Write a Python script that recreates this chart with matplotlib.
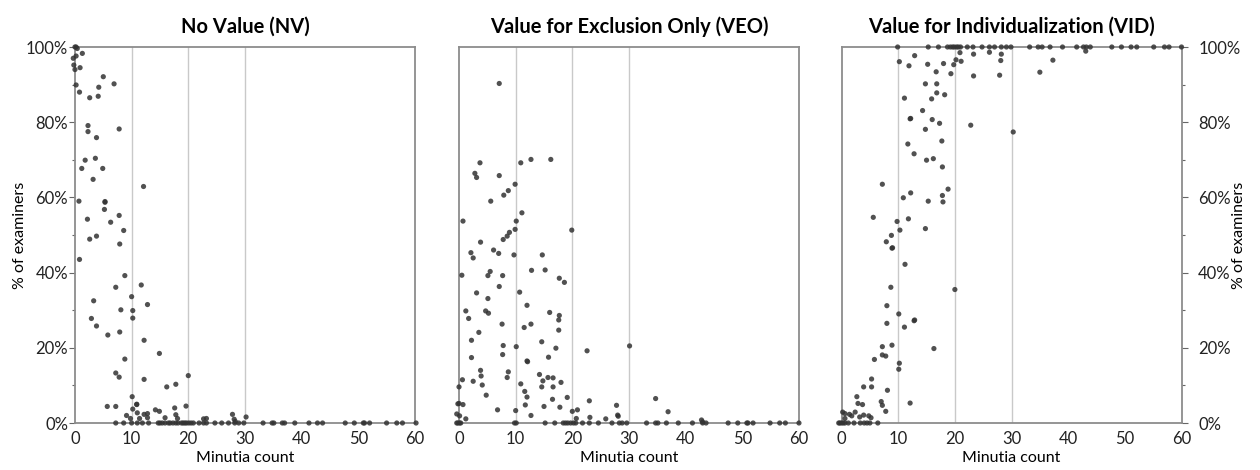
"""
Minutia count vs. % of examiners, one panel per value determination (NV / VEO / VID).
"""
import matplotlib
matplotlib.use("Agg")
import matplotlib.pyplot as plt
import matplotlib.ticker as ticker

plt.rcParams.update({
    "font.family": ["Lato", "DejaVu Sans"],
    "font.size": 11,
    "figure.facecolor": "white",
    "axes.facecolor": "white",
})

# ── Data ────────────────────────────────────────────────────────────────────
titles = ["No Value (NV)", "Value for Exclusion Only (VEO)", "Value for Individualization (VID)"]

nv_x = [0.0, 0.2, 0.4, 0.2, 1.3, -0.3, -0.2, 0.9, 0.0, 5.0, 6.9, 0.2, 4.2, 0.8, 2.6, 4.1,
        2.3, 2.3, 7.8, 3.8, 1.8, 3.6, 1.2, 4.9, 3.2, 12.1, 0.7, 5.3, 5.3, 5.2, 7.8, 2.2,
        6.3, 8.6, 2.6, 3.8, 7.9, 0.8, 8.8, 7.2, 11.7, 10.0, 3.3, 12.8, 8.1, 10.2, 2.9, 10.2,
        3.8, 7.9, 5.8, 12.2, 14.9, 8.8, 7.2, 7.8, 12.2, 20.0, 17.8, 16.2, 10.1, 5.7, 7.2, 10.9,
        19.6, 10.2, 14.2, 14.9, 17.6, 9.1, 11.0, 12.2, 12.8, 9.8, 11.4, 12.8, 15.9, 17.8, 18.1,
        22.7, 23.2, 27.8, 28.1, 30.2, 28.3, 10.9]
nv_y = [100, 100, 99.6, 97.6, 98.3, 97.0, 95.2, 94.5, 94.0, 92.1, 90.2, 89.9, 89.3, 88.0, 86.5, 86.9,
        79.1, 77.5, 78.2, 75.9, 69.9, 70.4, 67.7, 67.7, 64.8, 62.9, 59.0, 58.7, 58.9, 56.8, 55.2, 54.2,
        53.4, 51.2, 48.9, 49.7, 47.6, 43.5, 39.2, 36.1, 36.7, 33.6, 32.5, 31.5, 30.1, 29.9, 27.8, 27.9,
        25.8, 24.2, 23.4, 22.0, 18.5, 17.0, 13.3, 12.2, 11.6, 12.6, 10.3, 9.6, 7.0, 4.4, 4.4, 4.9,
        4.5, 3.7, 3.5, 3.1, 4.0, 2.0, 2.7, 2.3, 2.5, 1.2, 1.2, 1.4, 1.4, 2.2, 1.2,
        1.1, 1.2, 2.3, 1.0, 1.6, 0.4, 5.0]
nv_zero_x = [7.2, 8.6, 10.0, 11.0, 11.9, 13.0, 14.7, 15.0, 15.4, 15.9, 16.5, 16.8, 17.3, 17.8,
             18.2, 18.8, 19.1, 19.4, 19.7, 20.1, 20.5, 20.9, 21.9, 22.7, 23.2, 24.7, 25.9, 27.1,
             28.2, 28.9, 29.8, 33.2, 34.8, 35.1, 36.6, 37.0, 38.8, 41.3, 42.8, 43.7, 47.7, 49.3,
             50.9, 51.1, 52.0, 55.0, 56.8, 57.8, 60.2]

veo_x = [7.1, 3.7, 10.9, 12.7, 16.2, 2.8, 3.1, 7.1, 9.9, 8.7, 7.9, 5.6, 11.1, 0.7, 10.1, 9.9,
         19.9, 8.9, 8.5, 7.8, 3.8, 2.1, 2.5, 6.1, 7.0, 9.7, 14.7, 0.5, 5.1, 5.5, 7.7, 12.8,
         15.2, 17.7, 18.6, 7.1, 3.1, 10.7, 5.1, 12.0, 1.2, 4.7, 5.2, 16.0, 17.7, 17.6, 1.7, 7.6,
         12.7, 11.5, 17.6, 3.5, 2.2, 14.6, 7.8, 10.1, 17.1, 30.1, 22.6, 2.2, 7.7, 15.8, 12.0, 12.1,
         3.8, 8.7, 14.2, 3.9, 8.5, 15.7, 16.6, 0.6, 2.5, 14.8, 18.0, 10.9, 4.1, 14.6, 16.6, 0.0,
         11.6, 4.8, 12.0, 19.1, 16.5, 23.0, 34.7, -0.2, 0.0, 0.7, 11.7, 15.0, 17.8, 27.8, 6.8, 10.0,
         20.0, 20.9, 36.9, -0.4, 12.7, 28.0, 28.1, 0.1, 1.2, 20.7, 23.1, 25.9, 42.8, 43.0]
veo_y = [90.3, 69.2, 69.2, 70.1, 70.1, 66.4, 65.3, 65.8, 63.5, 61.8, 60.6, 59.0, 55.9, 53.7, 53.7, 51.5,
         51.3, 50.7, 49.7, 48.8, 48.1, 45.3, 43.9, 46.0, 45.1, 44.7, 44.7, 39.3, 39.2, 40.3, 39.2, 40.6,
         40.7, 38.5, 37.4, 36.3, 34.6, 34.8, 33.1, 31.3, 29.8, 29.8, 29.2, 29.4, 28.6, 27.4, 27.8, 26.3,
         26.3, 25.4, 24.7, 24.1, 22.0, 21.6, 20.6, 20.3, 19.9, 20.5, 19.2, 17.4, 18.2, 17.5, 16.5, 16.3,
         14.0, 13.6, 12.9, 12.5, 12.1, 12.1, 12.0, 11.5, 11.1, 11.2, 10.8, 10.4, 10.1, 9.6, 9.6, 9.6,
         8.4, 7.4, 6.9, 6.8, 6.3, 5.9, 6.5, 5.1, 5.2, 4.9, 4.8, 4.4, 4.2, 4.7, 3.5, 3.3,
         3.1, 3.5, 3.0, 2.4, 2.0, 2.1, 1.8, 1.9, 1.1, 1.2, 1.5, 1.1, 0.8, 0.3]
veo_zero_x = [-0.4, -0.2, 0.1, 0.3, 9.8, 10.1, 15.2, 16.9, 18.4, 18.8, 19.2, 19.7, 20.2, 20.6,
              21.8, 23.0, 24.6, 27.0, 28.3, 28.8, 29.6, 33.1, 34.7, 35.1, 36.6, 38.7, 41.2, 43.0,
              43.6, 47.5, 49.2, 50.8, 51.0, 51.9, 54.9, 56.6, 57.6, 60.0]

vid_x = [43.1, 12.9, 20.9, 23.3, 26.1, 28.2, 20.2, 21.1, 28.1, 37.3, 10.2, 11.9, 15.2, 18.0, 19.8,
         16.7, 19.3, 23.3, 27.9, 35.0, 14.8, 16.8, 16.8, 18.2, 11.1, 15.9, 14.3, 12.1, 12.2, 16.0,
         17.3, 22.8, 14.8, 30.3, 11.7, 17.7, 12.8, 15.0, 16.2, 17.8, 7.2, 18.8, 12.2, 10.9, 17.8,
         15.3, 17.9, 5.6, 11.8, 9.8, 10.3, 14.8, 8.8, 7.9, 8.9, 9.0, 11.2, 8.7, 20.0, 8.0,
         10.1, 8.0, 12.8, 12.9, 11.1, 7.2, 8.9, 16.3, 7.2, 7.8, 5.8, 10.2, 10.1, 5.3, 3.9,
         5.3, 8.1, 2.7, 2.9, 3.7, 7.0, 7.2, 12.1, 7.8, 0.2, 0.6, 1.4, 2.4, 3.9, 4.8,
         5.2, 3.2, 1.8, 0.6]
vid_y = [98.9, 97.7, 98.5, 98.1, 98.6, 98.1, 96.6, 96.2, 96.4, 96.5, 96.1, 95.0, 95.4, 95.6, 95.3,
         93.4, 92.9, 92.3, 92.5, 93.3, 90.2, 90.2, 87.8, 87.3, 86.4, 86.2, 83.1, 80.9, 81.0, 80.7,
         79.7, 79.2, 78.1, 77.4, 74.2, 75.0, 71.6, 69.9, 70.3, 68.1, 63.5, 62.2, 61.2, 59.9, 60.5,
         59.0, 58.8, 54.7, 54.3, 53.6, 51.3, 51.7, 49.9, 48.2, 46.5, 46.6, 42.2, 36.1, 35.5, 31.2,
         29.0, 26.5, 27.2, 27.4, 25.5, 20.3, 20.7, 19.8, 18.1, 17.8, 16.9, 15.9, 14.3, 11.7, 9.6,
         9.6, 8.7, 7.0, 5.2, 4.9, 5.7, 4.7, 5.3, 3.1, 2.9, 2.5, 2.3, 2.9, 2.1, 1.9,
         1.4, 1.6, 1.9, 1.2]
vid_full_x = [9.9, 15.3, 17.1, 18.7, 19.2, 19.6, 19.9, 20.3, 20.6, 21.0, 22.2, 23.2, 24.8, 26.1,
              27.0, 28.2, 29.1, 29.9, 33.2, 34.7, 35.4, 36.8, 39.0, 41.5, 42.7, 43.2, 43.9, 47.7,
              49.4, 51.1, 52.1, 55.1, 57.0, 57.8, 60.0]
vid_zero_x = [-0.5, -0.3, 0.0, 0.3, 0.6, 1.2, 2.2, 3.3, 4.0, 4.5, 5.0, 6.4]

y_major = [0, 20, 40, 60, 80, 100]
y_minor = [10, 30, 50, 70, 90]
x_ticks = [0, 10, 20, 30, 40, 50, 60]
grid_x = [10, 20, 30]

DOT = "#333333"
SPINE = "#8c8c8c"
GRID = "#c9c9c9"

panels = [
    (nv_x + nv_zero_x, nv_y + [0] * len(nv_zero_x)),
    (veo_x + veo_zero_x, veo_y + [0] * len(veo_zero_x)),
    (vid_x + vid_full_x + vid_zero_x,
     vid_y + [100] * len(vid_full_x) + [0] * len(vid_zero_x)),
]

fig = plt.figure(figsize=(12.6, 4.7), dpi=100)
lefts = [0.0595, 0.3643, 0.6679]

for i, (left, (xs, ys)) in enumerate(zip(lefts, panels)):
    ax = fig.add_axes([left, 0.1, 0.2698, 0.8])
    for gx in grid_x:
        ax.axvline(gx, color=GRID, linewidth=1.0, zorder=0)
    ax.scatter(xs, ys, s=14, color=DOT, alpha=0.85, edgecolors="none", clip_on=False, zorder=3)

    ax.set_xlim(0, 60)
    ax.set_ylim(0, 100)
    ax.set_xticks(x_ticks)
    ax.tick_params(axis="x", length=0, pad=6, labelsize=12, colors="#222222")
    for sp in ax.spines.values():
        sp.set_color(SPINE)
        sp.set_linewidth(1.3)

    ax.set_title(titles[i], fontsize=14.5, fontweight="bold", pad=10)
    ax.set_xlabel("Minutia count", fontsize=11.5, labelpad=3)

    ax.set_yticks(y_major)
    ax.set_yticks(y_minor, minor=True)
    ax.yaxis.set_major_formatter(ticker.FuncFormatter(lambda v, _: f"{int(v)}%"))
    if i == 0:
        ax.tick_params(axis="y", which="major", length=4, width=0.8, color="#666666",
                       labelsize=12, pad=1, labelcolor="#222222")
        ax.tick_params(axis="y", which="minor", length=2, width=0.8, color="#666666")
        ax.set_ylabel("% of examiners", fontsize=11.5)
        ax.yaxis.set_label_coords(-0.14, 0.5)
    elif i == 1:
        ax.tick_params(axis="y", which="both", length=0, labelleft=False)
    else:
        ax.yaxis.tick_right()
        ax.tick_params(axis="y", which="major", length=4, width=0.8, color="#666666",
                       labelsize=12, pad=8, labelcolor="#222222")
        ax.tick_params(axis="y", which="minor", length=2, width=0.8, color="#666666")
        ax.yaxis.set_label_position("right")
        ax.set_ylabel("% of examiners", fontsize=11.5, rotation=90)
        ax.yaxis.set_label_coords(1.15, 0.5)

fig.savefig("out.png", dpi=100, facecolor="white")
plt.close(fig)
